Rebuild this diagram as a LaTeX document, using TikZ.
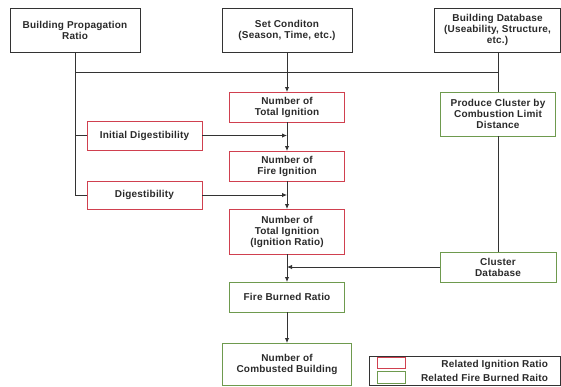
\documentclass[tikz,border=0pt]{standalone}
\usepackage{fontspec}
\setmainfont{Liberation Sans}[LetterSpace=2]
\usetikzlibrary{arrows.meta}
\definecolor{ln}{HTML}{333333}
\definecolor{txt}{HTML}{2A2A2A}
\definecolor{redb}{HTML}{D0404F}
\definecolor{greenb}{HTML}{6E9A4E}
\begin{document}
\begin{tikzpicture}[x=1pt,y=-1pt,
  font=\fontsize{10}{11}\selectfont\bfseries,
  every node/.style={inner sep=0pt,outer sep=0pt,text=txt,align=center},
  bbox/.style={draw=ln,line width=0.9pt},
  rbox/.style={draw=redb,line width=0.9pt},
  gbox/.style={draw=greenb,line width=0.9pt},
  conn/.style={draw=ln,line width=0.9pt},
  arr/.style={conn,-{Latex[length=5pt,width=4.5pt]}}]
\useasboundingbox (0,0) rectangle (561,386);
% top row
\node[bbox,minimum width=130pt,minimum height=44pt] (bpr) at (75,30) {Building Propagation\\Ratio};
\node[bbox,minimum width=130pt,minimum height=44pt] (setc) at (287,30) {Set Conditon\\(Season, Time, etc.)};
\node[bbox,minimum width=126.5pt,minimum height=44pt] (bdb) at (497.5,30) {Building Database\\(Useability, Structure,\\etc.)};
% middle column
\node[rbox,minimum width=115pt,minimum height=30pt] (nti) at (287,107) {Number of\\Total Ignition};
\node[rbox,minimum width=115pt,minimum height=29pt] (ind) at (144.5,135.5) {Initial Digestibility};
\node[rbox,minimum width=115pt,minimum height=30pt] (nfi) at (287,166) {Number of\\Fire Ignition};
\node[rbox,minimum width=115pt,minimum height=28pt] (dig) at (144.5,195) {Digestibility};
\node[rbox,minimum width=115pt,minimum height=45pt] (ntir) at (287,231.5) {Number of\\Total Ignition\\(Ignition Ratio)};
\node[gbox,minimum width=115pt,minimum height=30pt] (fbr) at (287,297) {Fire Burned Ratio};
\node[gbox,minimum width=129pt,minimum height=42pt] (ncb) at (287,364) {Number of\\Combusted Building};
% right column
\node[gbox,minimum width=115pt,minimum height=44pt] (pc) at (498,114) {Produce Cluster by\\Combustion Limit\\Distance};
\node[gbox,minimum width=116pt,minimum height=30pt] (cdb) at (498,267) {Cluster\\Database};
% connectors
\coordinate (hl) at (75,72);
\coordinate (hr) at (498,72);
\draw[conn] (hl) -- (hr);
\draw[conn] (bpr.south) |- (dig.west);
\draw[conn] (bpr.south |- ind.west) -- (ind.west);
\draw[conn] (bdb.south -| pc.north) -- (pc.north);
\draw[conn] (pc.south) -- (cdb.north);
\draw[arr] (setc.south) -- (nti.north);
\draw[arr] (nti.south) -- (nfi.north);
\draw[arr] (ind.east) -- (nti.south |- ind.east);
\draw[arr] (nfi.south) -- (ntir.north);
\draw[arr] (dig.east) -- (nfi.south |- dig.east);
\draw[arr] (ntir.south) -- (fbr.north);
\draw[arr] (cdb.west) -- (ntir.south |- cdb.west);
\draw[arr] (fbr.south) -- (ncb.north);
% legend
\node[draw=ln,line width=0.9pt,minimum width=191.5pt,minimum height=29.5pt] (leg) at (464.75,370.75) {};
\node[draw=redb,line width=0.8pt,minimum width=28pt,minimum height=11pt] (lr) at (391,362.5) {};
\node[draw=greenb,line width=0.8pt,minimum width=28pt,minimum height=12pt] (lg) at (391,377) {};
\node[anchor=east] (lrt) at (548,364.5) {Related Ignition Ratio};
\node[anchor=east] (lgt) at (548,377.5) {Related Fire Burned Raito};
\end{tikzpicture}
\end{document}
